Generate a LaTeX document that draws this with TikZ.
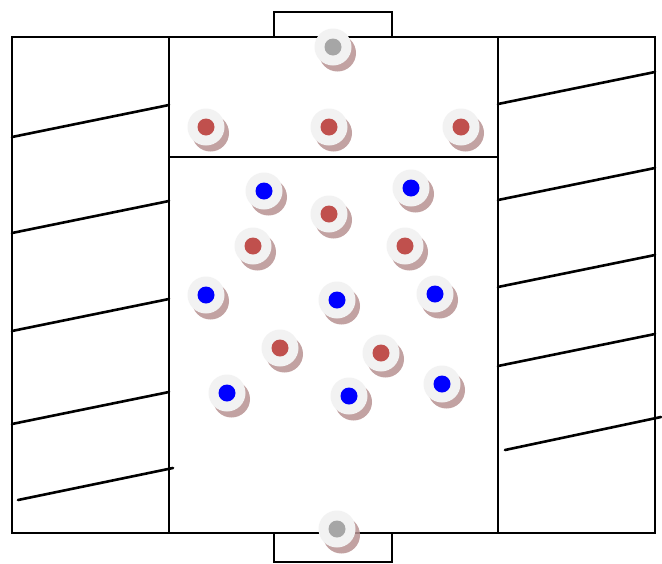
\documentclass[tikz,border=0pt]{standalone}
\usetikzlibrary{shadows}
\definecolor{dotred}{RGB}{192,80,77}
\definecolor{dotblue}{RGB}{0,0,255}
\definecolor{dotgrey}{RGB}{166,166,166}
\definecolor{shadowc}{RGB}{184,146,146}
\definecolor{discfill}{RGB}{242,242,242}
\tikzset{
  fieldline/.style={line width=2.6pt, black},
  stripe/.style={line width=2.6pt, black, line cap=round},
  token/.style={circle, minimum size=37pt, inner sep=0pt, fill=discfill,
    drop shadow={shadow xshift=4.5pt, shadow yshift=-6pt, fill=shadowc, opacity=0.85}},
  redtok/.style={token, path picture={\fill[dotred] (path picture bounding box.center) circle (8.5pt);}},
  bluetok/.style={token, path picture={\fill[dotblue] (path picture bounding box.center) circle (8.5pt);}},
  greytok/.style={token, path picture={\fill[dotgrey] (path picture bounding box.center) circle (8.5pt);}},
}
\begin{document}
\begin{tikzpicture}[x=1pt,y=-1pt]
\useasboundingbox[fill=white] (0,0) rectangle (662,563);
% field
\draw[fieldline] (12,37) rectangle (655,533);
\draw[fieldline] (169,37) -- (169,533);
\draw[fieldline] (498,37) -- (498,533);
\draw[fieldline] (169,157) -- (498,157);
\draw[fieldline] (274,37) -- (274,12) -- (392,12) -- (392,37);
\draw[fieldline] (274,533) -- (274,562) -- (392,562) -- (392,533);
% stripes left
\draw[stripe] (12,137) -- (169,105);
\draw[stripe] (12,233) -- (169,201);
\draw[stripe] (12,331) -- (169,299);
\draw[stripe] (12,424) -- (169,392);
\draw[stripe] (18,500) -- (173,468);
% stripes right
\draw[stripe] (498,104) -- (655,72);
\draw[stripe] (498,200) -- (655,168);
\draw[stripe] (498,287) -- (655,255);
\draw[stripe] (498,366) -- (655,334);
\draw[stripe] (505,450) -- (661,417);
% tokens
\node[greytok] (g1) at (333,47) {};
\node[greytok] (g2) at (337,529) {};
\node[redtok] (r1) at (206,127) {};
\node[redtok] (r2) at (329,127) {};
\node[redtok] (r3) at (461,127) {};
\node[redtok] (r4) at (329,214) {};
\node[redtok] (r5) at (253,246) {};
\node[redtok] (r6) at (405,246) {};
\node[redtok] (r7) at (280,348) {};
\node[redtok] (r8) at (381,353) {};
\node[bluetok] (b1) at (264,191) {};
\node[bluetok] (b2) at (411,188) {};
\node[bluetok] (b3) at (206,295) {};
\node[bluetok] (b4) at (337,300) {};
\node[bluetok] (b5) at (435,294) {};
\node[bluetok] (b6) at (227,393) {};
\node[bluetok] (b7) at (349,396) {};
\node[bluetok] (b8) at (442,384) {};
\end{tikzpicture}
\end{document}
